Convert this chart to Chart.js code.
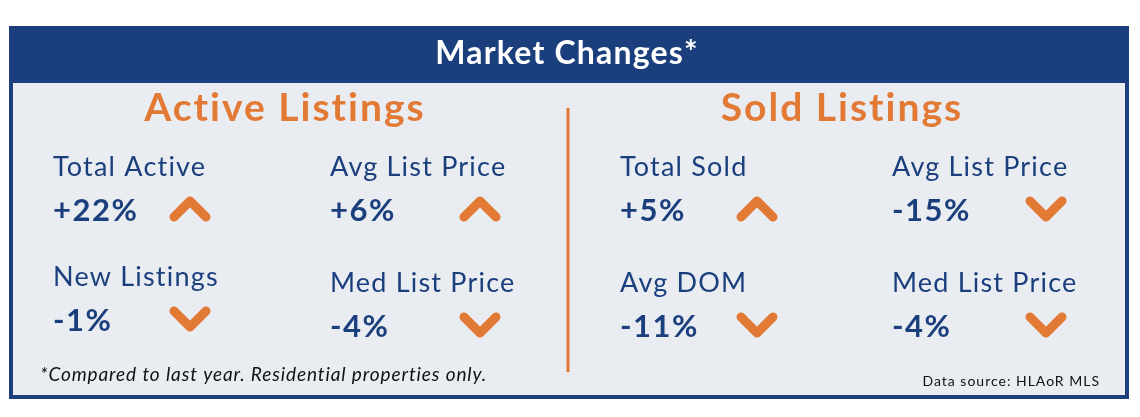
<!DOCTYPE html>
<html><head><meta charset="utf-8">
<script src="https://cdn.jsdelivr.net/npm/chart.js@4"></script>
<style>html,body{margin:0;background:#fff}#wrap{width:1140px;height:417px}</style>
</head><body><div id="wrap"><canvas id="c"></canvas></div>
<script>
// panel data
const title = "Market Changes*";
const sections = ["Active Listings", "Sold Listings"];
const metricLabels = [
  ["Total Active", "Avg List Price", "New Listings", "Med List Price"],
  ["Total Sold", "Avg List Price", "Avg DOM", "Med List Price"]
];
const metricValues = [
  [22, 6, -1, -4],
  [5, -15, -11, -4]
];
const footnote = "*Compared to last year. Residential properties only.";
const source = "Data source: HLAoR MLS";

const navy = "#1b3f7c", orange = "#e27a35", bg = "#e9edf2";

function chevron(ctx, x, y, up) {
  ctx.save();
  ctx.strokeStyle = orange; ctx.lineWidth = 9; ctx.lineCap = "round"; ctx.lineJoin = "round";
  ctx.beginPath();
  if (up) { ctx.moveTo(x - 16, y + 8); ctx.lineTo(x, y - 8); ctx.lineTo(x + 16, y + 8); }
  else { ctx.moveTo(x - 16, y - 8); ctx.lineTo(x, y + 8); ctx.lineTo(x + 16, y - 8); }
  ctx.stroke();
  ctx.restore();
}

function text(ctx, s, x, y, font, spacing) {
  ctx.font = font;
  ctx.letterSpacing = spacing + "px";
  ctx.fillText(s, x, y);
  ctx.letterSpacing = "0px";
}

const panel = {
  id: "panel",
  afterDraw(chart) {
    const ctx = chart.ctx;
    ctx.save();
    ctx.fillStyle = navy; ctx.fillRect(9, 26, 1120, 373);
    ctx.fillStyle = bg; ctx.fillRect(13, 83, 1112, 312);
    ctx.fillStyle = "#fff"; ctx.textAlign = "center"; ctx.textBaseline = "middle";
    text(ctx, title, 567, 54, "bold 32px Lato", 1.2);
    ctx.strokeStyle = orange; ctx.lineWidth = 3;
    ctx.beginPath(); ctx.moveTo(568, 108); ctx.lineTo(568, 372); ctx.stroke();
    const secX = [285, 842];
    const colX = [[53, 330], [620, 892]];
    const chevX = [[190, 480], [757, 1046]];
    const rowY = [[167, 277], [167, 283]];
    sections.forEach((s, i) => {
      ctx.fillStyle = orange; ctx.textAlign = "center";
      text(ctx, s, secX[i], 108, "bold 39px Lato", 2);
      metricLabels[i].forEach((lab, k) => {
        const c = k % 2, r = Math.floor(k / 2);
        let ly = rowY[i][r];
        if (i === 0 && k === 3) ly = 283;
        const v = metricValues[i][k];
        ctx.textAlign = "left"; ctx.fillStyle = navy;
        text(ctx, lab, colX[i][c], ly, "27px Lato", 1.2);
        text(ctx, (v > 0 ? "+" : "") + v + "%", colX[i][c], ly + 44, "bold 31px Lato", 1.5);
        chevron(ctx, chevX[i][c], ly + 42, v > 0);
      });
    });
    ctx.fillStyle = "#111"; ctx.textAlign = "left";
    text(ctx, footnote, 40, 375, "italic 19px Lato", 0.9);
    ctx.textAlign = "right";
    text(ctx, source, 1100, 381, "14px Lato", 1);
    ctx.restore();
  }
};

new Chart(document.getElementById("c"), {
  type: "bar",
  data: { labels: sections, datasets: [{ data: [], backgroundColor: orange }] },
  options: {
    responsive: true, maintainAspectRatio: false, animation: false,
    plugins: { legend: { display: false }, tooltip: { enabled: false } },
    scales: { x: { display: false }, y: { display: false } }
  },
  plugins: [panel]
});
</script></body></html>
